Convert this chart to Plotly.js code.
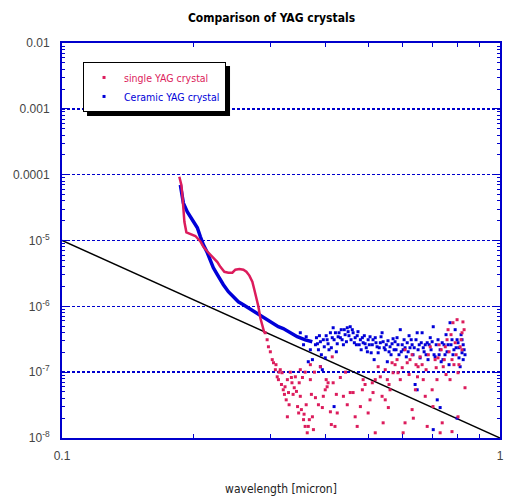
<!DOCTYPE html>
<html>
<head>
<meta charset="utf-8">
<script src="https://cdn.plot.ly/plotly-3.0.1.min.js"></script>
<style>html,body{margin:0;padding:0;background:#fff;}#chart{width:505px;height:499px;}</style>
</head>
<body>
<div id="chart"></div>
<script>
// ---- data (wavelength in micron, intensity) ----
// single YAG crystal: smooth part
const singleCurveWl = [0.1853,0.1873,0.1883,0.1893,0.1903,0.1923,0.1964,0.2016,0.2070,0.2103,0.2147,0.2182,0.2216,0.2263,0.2299,0.2348,0.2398,0.2449,0.2488,0.2541,0.2595,0.2636,0.2678,0.2720,0.2749,0.2778,0.2807,0.2836,0.2866,0.2897];
const singleCurveVal = [9.3e-5,7.0e-5,4.9e-5,2.9e-5,1.92e-5,1.33e-5,1.26e-5,1.17e-5,9.7e-6,8.0e-6,6.8e-6,6.1e-6,5.5e-6,4.7e-6,3.98e-6,3.35e-6,3.24e-6,3.24e-6,3.6e-6,3.7e-6,3.6e-6,3.35e-6,2.93e-6,2.36e-6,1.79e-6,1.37e-6,1.0e-6,6.7e-7,5.0e-7,3.97e-7];
// single YAG crystal: noisy part
const singleScatterWl = [0.291,0.294,0.296,0.299,0.302,0.304,0.307,0.310,0.312,0.315,0.318,0.320,0.323,0.327,0.329,0.332,0.335,0.337,0.327,0.341,0.345,0.347,0.350,0.350,0.354,0.356,0.359,0.363,0.365,0.369,0.373,0.375,0.379,0.389,0.393,0.395,0.399,0.403,0.405,0.410,0.414,0.416,0.420,0.425,0.432,0.439,0.455,0.462,0.467,0.472,0.480,0.487,0.500,0.511,0.513,0.519,0.527,0.533,0.538,0.541,0.547,0.553,0.556,0.561,0.567,0.570,0.582,0.585,0.592,0.601,0.607,0.614,0.623,0.630,0.634,0.641,0.648,0.650,0.657,0.668,0.675,0.682,0.693,0.700,0.703,0.711,0.718,0.730,0.738,0.742,0.750,0.757,0.761,0.769,0.777,0.781,0.790,0.798,0.802,0.811,0.819,0.823,0.832,0.777,0.802,0.607,0.630,0.664,0.686,0.722,0.734,0.746,0.765,0.794,0.806,0.815,0.828,0.576,0.547,0.519,0.492,0.444,0.369,0.359,
  0.308,0.313,0.317,0.322,0.325,0.330,0.334,0.339,0.343,0.348,0.352,0.357,0.361,0.367,0.371,0.377,0.385,0.401,0.412,0.423,0.448,0.485,0.505,0.558,0.598,0.620,0.643,0.678,0.715,0.753,0.785,0.726,0.773,0.819];
const singleScatterVal = [3.97e-7,3.11e-7,2.43e-7,2.04e-7,1.55e-7,1.39e-7,1.09e-7,8.5e-8,7.7e-8,1.09e-7,9.8e-8,5.4e-8,6.0e-8,7.7e-8,4.9e-8,1.0e-7,6.9e-8,4.6e-8,2.1e-8,8.5e-8,3.0e-8,2.4e-8,4.3e-8,1.09e-7,8.3e-8,1.9e-8,1.5e-8,1.2e-8,1.5e-8,7.7e-8,2.1e-8,1.34e-8,4.1e-8,1.21e-7,2.9e-8,4.3e-8,5.4e-8,6.0e-8,6.9e-8,2.5e-8,1.71e-7,6.9e-8,1.5e-8,2.4e-8,8.3e-8,4.3e-8,4.9e-8,4.9e-8,2.1e-8,1.5e-8,3.0e-8,7.7e-8,2.4e-8,6.9e-8,4.9e-8,1.2e-8,1.21e-7,8.5e-8,4.3e-8,1.7e-8,3.8e-8,7.7e-8,2.9e-8,5.4e-8,1.39e-7,9.8e-8,1.55e-7,9.8e-8,7.7e-8,1.2e-8,1.7e-8,1.39e-7,1.55e-7,2.7e-8,2.0e-8,5.4e-8,8.5e-8,1.21e-7,1.71e-7,7.7e-8,4.3e-8,1.5e-8,2.43e-7,5.4e-8,3.0e-8,1.55e-7,7.7e-8,1.2e-8,1.7e-8,1.21e-7,2.43e-7,3.11e-7,4.42e-7,7.7e-8,1.55e-7,5.64e-7,2.8e-7,6.27e-7,9.8e-8,2.43e-7,3.97e-7,5.8e-7,5.8e-8,1.25e-8,2.1e-8,2.19e-7,1.84e-7,1.3e-7,1.84e-7,1.65e-7,2.19e-7,1.55e-7,2.04e-7,1.84e-7,1.3e-7,3.11e-7,4.42e-7,1.3e-7,1.09e-7,7.7e-8,6.5e-8,1.0e-7,1.3e-7,1.0e-7,
  1.3e-7,1.0e-7,6.5e-8,4.6e-8,3.8e-8,3.2e-8,8.3e-8,5.8e-8,5.1e-8,6.9e-8,2.7e-8,2.3e-8,3.2e-8,1.9e-8,4.6e-8,1.0e-7,3.2e-8,7.7e-8,1.6e-8,4.6e-8,3.2e-8,5.4e-8,3.8e-8,6.5e-8,1.17e-7,9.2e-8,1.3e-7,1.09e-7,1.17e-7,9.2e-8,1.3e-7,2.61e-7,3.71e-7,2.19e-7];
// Ceramic YAG crystal: smooth part
const ceramicCurveWl = [0.1863,0.1883,0.1893,0.1933,0.1964,0.1995,0.2037,0.2070,0.2103,0.2147,0.2182,0.2216,0.2263,0.2299,0.2336,0.2398,0.2462,0.2527,0.2595,0.2664,0.2735,0.2807,0.2882,0.2958,0.3037,0.3118,0.3200,0.3319,0.3444,0.3593,0.3728];
const ceramicCurveVal = [7.0e-5,4.9e-5,3.7e-5,2.71e-5,2.27e-5,1.92e-5,1.56e-5,1.14e-5,8.6e-6,6.5e-6,4.75e-6,3.85e-6,3.02e-6,2.52e-6,2.13e-6,1.67e-6,1.41e-6,1.17e-6,1.06e-6,9.5e-7,8.3e-7,7.5e-7,6.7e-7,6.0e-7,5.4e-7,4.9e-7,4.6e-7,4.0e-7,3.45e-7,3.1e-7,2.9e-7];
// Ceramic YAG crystal: noisy part
const ceramicScatterWl = [0.379,0.381,0.385,0.389,0.391,0.393,0.395,0.399,0.401,0.405,0.410,0.412,0.416,0.418,0.421,0.423,0.427,0.432,0.434,0.439,0.443,0.448,0.450,0.455,0.457,0.462,0.467,0.470,0.474,0.480,0.482,0.487,0.490,0.495,0.500,0.505,0.508,0.511,0.516,0.519,0.524,0.527,0.533,0.535,0.538,0.544,0.547,0.553,0.555,0.561,0.564,0.570,0.576,0.579,0.585,0.592,0.595,0.601,0.604,0.611,0.614,0.620,0.623,0.630,0.633,0.640,0.643,0.647,0.650,0.657,0.661,0.664,0.671,0.675,0.682,0.685,0.693,0.696,0.704,0.707,0.711,0.715,0.719,0.722,0.730,0.734,0.741,0.745,0.753,0.757,0.765,0.769,0.773,0.781,0.790,0.794,0.798,0.802,0.806,0.811,0.815,0.819,0.824,0.828,0.730,0.798,0.704,0.647,0.418,0.365,0.373,0.389,0.350,0.356,0.361,0.369,
  0.383,0.387,0.397,0.403,0.407,0.414,0.425,0.429,0.436,0.441,0.446,0.452,0.460,0.465,0.472,0.477,0.485,0.492,0.498,0.503,0.513,0.521,0.530,0.541,0.550,0.558,0.567,0.573,0.582,0.588,0.598,0.607,0.617,0.627,0.637,0.654,0.668,0.678,0.689,0.700,0.726,0.738,0.749,0.761,0.777,0.785,0.806,0.819,0.832,0.824];
const ceramicScatterVal = [2.61e-7,3.34e-7,2.19e-7,2.9e-7,1.84e-7,1.09e-7,3.11e-7,1.65e-7,3.58e-7,2.7e-7,3.97e-7,2.35e-7,4.73e-7,3.11e-7,3.97e-7,2.04e-7,3.45e-7,3.34e-7,4.42e-7,2.61e-7,3.71e-7,4.73e-7,4.12e-7,4.9e-7,3.11e-7,3.97e-7,3.34e-7,2.61e-7,4.12e-7,3.11e-7,2.19e-7,2.8e-7,3.58e-7,2.35e-7,3.11e-7,3.45e-7,1.97e-7,2.61e-7,1.55e-7,3.34e-7,2.43e-7,1.97e-7,2.8e-7,3.45e-7,3.97e-7,2.35e-7,2.19e-7,1.44e-7,3.0e-7,2.43e-7,1.84e-7,3.22e-7,2.9e-7,2.19e-7,2.61e-7,4.42e-7,2.04e-7,2.19e-7,3.11e-7,1.71e-7,2.8e-7,3.58e-7,2.35e-7,2.61e-7,1.84e-7,6.5e-8,3.11e-7,3.97e-7,2.19e-7,1.65e-7,2.8e-7,3.97e-7,2.04e-7,2.61e-7,2.8e-7,1.55e-7,3.34e-7,2.19e-7,4.9e-7,1.84e-7,1.71e-7,2.61e-7,3.8e-8,3.11e-7,2.19e-7,1.44e-7,1.55e-7,2.61e-7,3.71e-7,2.04e-7,1.3e-7,5.64e-7,2.61e-7,1.84e-7,4.42e-7,2.35e-7,3.11e-7,2.8e-7,1.65e-7,1.21e-7,3.71e-7,1.97e-7,2.61e-7,2.19e-7,2.9e-8,2.0e-8,1.34e-8,5.4e-8,3.0e-8,1.44e-7,1.55e-7,1.21e-7,3.97e-7,2.61e-7,3.45e-7,2.19e-7,
  2.7e-7,3.58e-7,2.43e-7,3.11e-7,2.19e-7,3.34e-7,2.7e-7,3.97e-7,3.11e-7,4.42e-7,2.9e-7,3.58e-7,4.42e-7,2.8e-7,3.58e-7,2.61e-7,3.34e-7,2.7e-7,2.04e-7,2.61e-7,3.11e-7,2.8e-7,2.35e-7,2.9e-7,2.61e-7,2.04e-7,2.7e-7,2.19e-7,3.34e-7,1.84e-7,2.61e-7,2.35e-7,2.04e-7,3.11e-7,2.35e-7,2.61e-7,2.35e-7,1.84e-7,2.61e-7,2.9e-7,1.84e-7,2.8e-7,1.84e-7,2.61e-7,3.11e-7,2.19e-7,2.35e-7,3.11e-7,1.84e-7,1.55e-7];
// reference line
const refLineWl = [0.1, 1];
const refLineVal = [1e-5, 1e-8];
// ticks
const yTickVals = [1e-2,1e-3,1e-4,1e-5,1e-6,1e-7,1e-8];
const yTickText = ['0.01','0.001','0.0001','10<sup>-5</sup>','10<sup>-6</sup>','10<sup>-7</sup>','10<sup>-8</sup>'];
const xTickVals = [0.1, 1];
const xTickText = ['0.1', '1'];
const xMinorVals = [0.2,0.3,0.4,0.5,0.6,0.7,0.8,0.9];

const RED = '#dc1c5c';
const BLUE = '#0000d8';
const AXBLUE = '#0000cc';
const COND = '"DejaVu Sans Condensed", "Liberation Sans", sans-serif';
const SANS = '"Liberation Sans", Arial, sans-serif';

const traces = [
  {x: refLineWl, y: refLineVal, mode: 'lines', line: {color: '#000', width: 1.5}, showlegend: false, hoverinfo: 'skip'},
  {x: ceramicCurveWl, y: ceramicCurveVal, mode: 'lines', line: {color: BLUE, width: 3.5}, legendgroup: 'c', showlegend: false},
  {x: singleCurveWl, y: singleCurveVal, mode: 'lines', line: {color: RED, width: 2.5}, legendgroup: 's', showlegend: false},
  {x: ceramicScatterWl, y: ceramicScatterVal, mode: 'markers', name: 'Ceramic YAG crystal', legendgroup: 'c', legendrank: 2,
   marker: {symbol: 'square', size: 3, color: BLUE}},
  {x: singleScatterWl, y: singleScatterVal, mode: 'markers', name: 'single YAG crystal', legendgroup: 's', legendrank: 1,
   marker: {symbol: 'square', size: 3, color: RED}}
];

const layout = {
  width: 505, height: 499,
  margin: {l: 62, r: 5, t: 43, b: 61},
  paper_bgcolor: '#fff', plot_bgcolor: '#fff',
  font: {family: SANS, size: 12, color: '#444'},
  title: {text: 'Comparison of YAG crystals', font: {family: COND, size: 12, color: '#000', weight: 'bold'}, x: 0.5376, xanchor: 'center', y: 0.964, yanchor: 'middle'},
  xaxis: {
    type: 'log', range: [-1, 0],
    tickmode: 'array', tickvals: xTickVals, ticktext: xTickText,
    ticks: 'inside', ticklen: 5, tickcolor: AXBLUE,
    tickfont: {family: SANS, size: 12, color: '#444'},
    minor: {ticks: 'inside', ticklen: 4, tickcolor: AXBLUE, tickvals: xMinorVals},
    showgrid: false, zeroline: false,
    showline: true, linecolor: AXBLUE, linewidth: 2, mirror: 'allticks',
    ticklabelstandoff: 6,
    title: {text: 'wavelength [micron]', font: {family: COND, size: 12, color: '#222'}, standoff: 22}
  },
  yaxis: {
    type: 'log', range: [-8, -2],
    tickmode: 'array', tickvals: yTickVals, ticktext: yTickText,
    ticks: 'inside', ticklen: 5, tickcolor: AXBLUE,
    tickfont: {family: SANS, size: 12, color: '#444'},
    minor: {ticks: 'inside', ticklen: 3, tickcolor: AXBLUE, dtick: 'D1'},
    showgrid: true, gridcolor: AXBLUE, gridwidth: 1.5, griddash: '3px,2px',
    zeroline: false,
    showline: true, linecolor: AXBLUE, linewidth: 2, mirror: 'allticks',
    ticklabelstandoff: 8
  },
  legend: {
    x: 0.048, y: 0.952, xanchor: 'left', yanchor: 'top',
    bgcolor: '#fff', bordercolor: '#000', borderwidth: 1,
    font: {family: COND, size: 10.5},
    tracegroupgap: 0, itemwidth: 30
  },
  shapes: []
};

function colorLegend(gd){
  gd.querySelectorAll('.legend .traces .legendtext').forEach(function(t){
    t.style.fill = t.textContent.indexOf('Ceramic') === 0 ? BLUE : RED;
  });
}

Plotly.newPlot('chart', traces, layout, {displayModeBar: false, staticPlot: true}).then(function(gd){
  colorLegend(gd);
  // drop shadow behind legend box
  const fl = gd._fullLayout, lg = fl.legend, sz = fl._size;
  const left = sz.l + lg.x * sz.w, top = sz.t + (1 - lg.y) * sz.h;
  const w = lg._width || 145, h = lg._height || 40, off = 4;
  const px2x = function(p){ return (p - sz.l) / sz.w; };
  const px2y = function(p){ return 1 - (p - sz.t) / sz.h; };
  return Plotly.relayout(gd, {shapes: [{type: 'rect', xref: 'paper', yref: 'paper',
    x0: px2x(left + off), x1: px2x(left + w + off), y0: px2y(top + h + off), y1: px2y(top + off),
    fillcolor: '#000', line: {width: 0}, layer: 'above'}]}).then(function(){ colorLegend(gd); });
});
</script>
</body>
</html>
